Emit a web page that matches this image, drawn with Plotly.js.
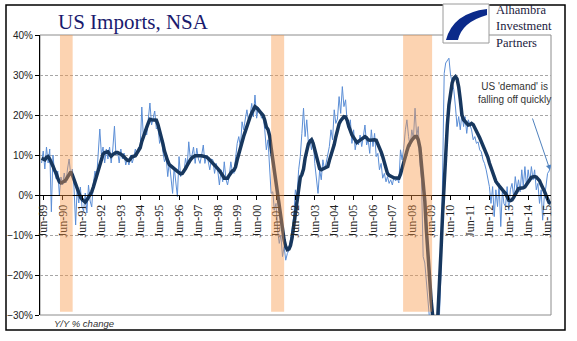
<!DOCTYPE html>
<html><head><meta charset="utf-8">
<script src="https://cdn.plot.ly/plotly-3.0.1.min.js"></script>
<style>html,body{margin:0;padding:0;background:#fff}#chart{width:577px;height:341px}</style>
</head><body><div id="chart"></div>
<script>
// Monthly Y/Y % change, May-1989 .. Aug-2015
const thinA = [8.0, 11.0, 6.5, 12.0, 8.0, 11.5, -4.2, 10.0, 5.5, 4.0, 6.0, 0.0,
  4.5, 2.5, 5.5, 3.0, 6.5, 9.0, 5.0, 6.5, 2.0, -7.5, 1.5, -2.0,
  2.0, -3.0, -4.0, 0.5, -4.5, 2.5, -1.5, -3.0, 3.0, 6.0, 4.0, 12.0,
  16.5, 10.0, 12.0, 8.0, 11.5, 9.0, 12.0, 8.0, 11.5, 17.2, 10.0, 11.0,
  8.0, 11.5, 9.0, 10.5, 7.5, 9.0, 7.5, 10.0, 8.0, 9.5, 11.5, 10.0];
const thinB = [12.0, 11.5, 22.0, 14.0, 16.5, 15.0, 19.5, 23.0, 17.5, 19.0, 21.0, 16.5,
  17.0, 12.9, 14.6, 11.0, 8.3, 9.6, 4.6, 8.3, 3.8, 0.4, 7.0, 3.0,
  -0.4, 9.6, 4.6, 6.0, 5.5, 9.2, 7.0, 13.3, 8.8, 10.0, 12.0, 7.9,
  11.7, 9.0, 7.9, 10.0, 12.5, 7.9, 10.0, 8.5, 6.3, 9.0, 8.8, 5.4,
  7.9, 6.0, 2.5, 6.3, 3.3, 8.3, 4.0, 2.5, 4.6, 8.3, 6.0, 5.4];
const thinC = [9.0, 12.9, 14.6, 12.0, 18.3, 16.3, 19.0, 21.3, 18.5, 20.0, 22.9, 19.5,
  25.0, 19.2, 22.0, 21.3, 19.2, 20.0, 16.3, 11.3, 13.8, 7.9, 0.4, 0.8,
  -3.8, -2.1, -8.8, -12.1, -10.0, -15.4, -12.9, -16.3, -14.6, -13.8, -11.5, -8.8,
  -5.4, 1.3, -0.4, 6.3, 9.6, 15.4, 21.7, 14.6, 18.8, 12.9, 14.0, 11.3,
  13.8, 7.9, 4.0, 0.4, 6.3, 3.8, 8.8, 6.3, 8.0, 10.4, 12.1, 16.3];
const thinD = [13.8, 21.3, 17.9, 19.0, 24.6, 20.4, 27.1, 22.1, 23.8, 17.9, 16.3, 18.8,
  12.9, 16.3, 11.3, 13.8, 12.5, 15.0, 12.1, 14.6, 17.5, 12.5, 13.8, 10.4,
  16.3, 12.1, 15.4, 9.6, 10.4, 6.3, 7.9, 4.2, 5.4, 3.3, 4.6, 2.9,
  3.8, 2.5, 4.6, 3.5, 4.2, 3.0, 11.3, 8.8, 11.7, 16.3, 18.8, 14.6,
  12.1, 16.3, 14.0, 21.7, 14.6, 17.1, 7.9, 3.8, -15.4, -17.0, -22.0, -27.0];
const thinE = [-31.0, -34.0, -36.0, -37.0, -35.5, -34.0, -31.0, -20.0, 4.0, 30.4, 33.0, 33.8,
  34.2, 30.0, 28.0, 26.3, 22.0, 17.1, 19.6, 16.3, 20.4, 17.1, 19.6, 15.4,
  18.8, 17.5, 16.3, 13.8, 14.6, 12.9, 13.3, 11.3, 10.8, 8.8, 7.9, 6.3,
  3.8, 2.1, -2.1, 2.1, -5.4, 1.3, -2.9, 2.9, -7.9, 1.3, -2.1, -2.9,
  2.1, -3.8, 1.3, 2.9, -0.4, 4.6, 1.3, 3.8, 0.8, 6.3, 2.1, 7.1];
const thinF = [2.1, 6.3, 3.3, 7.1, 3.8, 6.3, 1.3, 2.9, -2.1, 1.3, -6.3, -0.4, 2.0, 5.4, 6.0, 7.5];

const thickA = [9.2, 9.0, 8.8, 9.4, 9.6, 9.0, 8.3, 7.2, 6.2, 5.4, 4.2, 3.3,
  3.0, 3.1, 3.4, 3.8, 4.5, 5.3, 5.8, 5.0, 3.8, 2.5, 1.2, 0.1,
  -0.5, -1.1, -1.5, -1.8, -1.2, -0.6, 0.0, 0.8, 2.0, 3.4, 4.9, 6.5,
  8.2, 9.6, 10.2, 10.6, 10.8, 10.8, 10.2, 9.7, 10.1, 10.5, 10.6, 10.6,
  10.5, 10.2, 9.9, 9.5, 9.0, 8.7, 8.6, 9.2, 9.6, 9.7, 9.8, 10.5];
const thickB = [11.1, 11.8, 13.4, 14.8, 15.8, 16.9, 18.0, 18.9, 18.8, 18.7, 18.8, 18.7,
  17.6, 16.2, 14.5, 12.9, 11.0, 9.5, 8.5, 7.6, 7.2, 6.8, 6.5, 6.2,
  5.9, 5.6, 5.3, 5.4, 5.9, 6.6, 7.4, 8.2, 8.8, 9.3, 9.6, 9.8,
  9.8, 9.7, 9.8, 9.8, 9.7, 9.8, 9.5, 9.2, 8.8, 8.3, 7.9, 7.5,
  7.1, 6.6, 6.1, 5.6, 4.9, 4.2, 4.1, 4.2, 4.9, 5.7, 6.0, 6.2];
const thickC = [7.0, 8.8, 10.4, 12.0, 13.3, 14.7, 15.9, 17.3, 18.6, 19.6, 20.5, 21.4,
  22.1, 21.8, 21.4, 20.9, 20.4, 19.9, 18.7, 17.0, 16.4, 14.8, 11.8, 8.8,
  5.9, 3.0, 0.0, -2.9, -5.7, -8.5, -11.3, -12.9, -13.7, -13.5, -12.6, -10.6,
  -7.8, -4.6, -1.8, 1.6, 4.4, 5.1, 6.5, 9.2, 11.2, 12.8, 13.4, 13.8,
  12.9, 11.2, 9.4, 7.6, 6.6, 6.3, 6.5, 6.7, 6.7, 7.1, 8.6, 9.9];
const thickD = [11.4, 12.6, 14.5, 16.5, 17.8, 18.6, 19.2, 19.6, 19.5, 18.6, 17.2, 16.0,
  15.0, 14.4, 13.7, 13.1, 13.4, 13.7, 14.1, 14.4, 14.6, 14.3, 13.8, 13.7,
  13.8, 13.7, 13.8, 13.7, 12.8, 11.8, 10.8, 9.6, 7.9, 6.6, 5.4, 4.9,
  4.6, 4.5, 4.3, 4.2, 4.2, 4.2, 5.2, 6.8, 8.3, 9.6, 11.0, 12.3,
  13.2, 13.7, 14.2, 14.6, 14.6, 13.8, 11.8, 8.0, 4.0, -1.5, -8.5, -15.0];
const thickE = [-21.5, -26.5, -30.5, -33.0, -33.5, -31.0, -24.0, -14.5, -5.0, 4.0, 11.0, 17.5,
  22.5, 25.8, 28.0, 29.2, 29.6, 29.0, 27.0, 23.8, 20.0, 18.8, 18.3, 18.0,
  17.5, 17.6, 17.9, 17.6, 16.6, 15.9, 15.1, 14.3, 13.4, 12.6, 11.5, 10.5,
  9.5, 8.0, 6.8, 5.4, 4.2, 3.4, 2.8, 2.2, 1.7, 1.3, 0.8, 0.4,
  -0.4, -1.3, -1.4, -1.2, -0.6, 0.3, 1.0, 1.6, 1.7, 1.7, 1.8, 2.0];
const thickF = [2.5, 3.2, 3.8, 4.4, 4.6, 4.6, 4.5, 4.1, 3.6, 2.6, 2.0, 1.0, 0.0, -1.2, -1.9, -2.1];

const tickVals = ['1989-06-01','1990-06-01','1991-06-01','1992-06-01','1993-06-01','1994-06-01','1995-06-01',
  '1996-06-01','1997-06-01','1998-06-01','1999-06-01','2000-06-01','2001-06-01','2002-06-01','2003-06-01',
  '2004-06-01','2005-06-01','2006-06-01','2007-06-01','2008-06-01','2009-06-01','2010-06-01','2011-06-01',
  '2012-06-01','2013-06-01','2014-06-01','2015-06-01'];
const tickText = ['Jun-89','Jun-90','Jun-91','Jun-92','Jun-93','Jun-94','Jun-95','Jun-96','Jun-97','Jun-98',
  'Jun-99','Jun-00','Jun-01','Jun-02','Jun-03','Jun-04','Jun-05','Jun-06','Jun-07','Jun-08','Jun-09',
  'Jun-10','Jun-11','Jun-12','Jun-13','Jun-14','Jun-15'];
const recStart = ['1990-04-12','2001-03-01','2007-12-20'];
const recEnd   = ['1990-12-07','2001-11-01','2009-06-18'];

const thin = [].concat(thinA, thinB, thinC, thinD, thinE, thinF);
const thick = [].concat(thickA, thickB, thickC, thickD, thickE, thickF);
const dates = thin.map((_, i) => new Date(Date.UTC(1989, 4 + i, 1)).toISOString().slice(0, 10));

// pixel -> paper helpers (plot area: x 40..551, y 35..315)
const L = 40, T = 35, W = 511, H = 280;
const px = v => (v - L) / W;
const py = v => (T + H - v) / H;

const shapes = [];
recStart.forEach((s, i) => shapes.push({type:'rect', xref:'x', yref:'y', x0:s, x1:recEnd[i], y0:-29.2, y1:40,
  fillcolor:'#F79646', opacity:0.42, line:{width:0}, layer:'above'}));
// plot border (grey)
shapes.push({type:'rect', xref:'paper', yref:'paper', x0:0, x1:1, y0:0, y1:1, line:{color:'#8c8c8c', width:1}, layer:'below'});
// outer chart border
shapes.push({type:'rect', xref:'paper', yref:'paper', x0:px(6), x1:px(565), y0:py(330), y1:py(5), line:{color:'#000', width:1.5}});
// logo box
shapes.push({type:'rect', xref:'paper', yref:'paper', x0:px(443), x1:px(489), y0:py(43), y1:py(4), fillcolor:'#fff', line:{color:'#9a9a9a', width:1}, layer:'above'});
const P = (x, y) => px(x).toFixed(4) + ',' + py(y).toFixed(4);
shapes.push({type:'path', xref:'paper', yref:'paper', layer:'above', fillcolor:'#0b2a8a', line:{width:0},
  path:'M' + P(487,9) + ' Q' + P(453,13) + ' ' + P(446,40) + ' L' + P(458,40) + ' Q' + P(462,22) + ' ' + P(487,15) + ' Z'});

const annotations = [
  {xref:'paper', yref:'paper', x:px(494), y:py(26.5), xanchor:'left', yanchor:'middle', align:'left', showarrow:false,
    text:'Alhambra<br>Investment<br>Partners', font:{family:'Liberation Serif', size:12.5, color:'#1b1b40'}},
  {xref:'paper', yref:'paper', x:px(514), y:py(92.5), xanchor:'center', yanchor:'middle', showarrow:false,
    text:"US 'demand' is<br>falling off quickly", font:{family:'Liberation Sans', size:10, color:'#333'}},
  {xref:'paper', yref:'paper', x:px(550), y:py(170), ax:-18, ay:-53, showarrow:true, text:'', arrowhead:2, arrowsize:1, arrowwidth:1, arrowcolor:'#4F81BD'},
  {xref:'paper', yref:'paper', x:px(52), y:py(323), xanchor:'left', yanchor:'middle', showarrow:false,
    text:'<i>Y/Y % change</i>', font:{family:'Liberation Sans', size:9.5, color:'#333'}}
];

const data = [
  {x:dates, y:thin, type:'scatter', mode:'lines', line:{color:'#5b8ed6', width:1}, hoverinfo:'skip'},
  {x:dates, y:thick, type:'scatter', mode:'lines', line:{color:'#17375e', width:3.5}, hoverinfo:'skip'}
];

const layout = {
  width:577, height:341, margin:{l:L, r:577 - L - W, t:T, b:341 - T - H},
  paper_bgcolor:'#fff', plot_bgcolor:'#fff', showlegend:false,
  title:{text:'US Imports, NSA', xref:'container', yref:'container', x:58/577, xanchor:'left', y:1 - 22/341, yanchor:'middle',
    font:{family:'Liberation Serif', size:21, color:'#1a1a6e'}},
  xaxis:{type:'date', range:['1989-04-01','2015-08-05'], anchor:'free', position:30/70,
    tickmode:'array', tickvals:tickVals, ticktext:tickText, tickangle:-90,
    tickfont:{family:'Liberation Serif', size:12, color:'#222'},
    showline:true, linecolor:'#000', linewidth:1, ticks:'outside', ticklen:4, tickcolor:'#000',
    showgrid:false, zeroline:false, fixedrange:true},
  yaxis:{range:[-30, 40], dtick:10, tick0:0, ticksuffix:'%', domain:[0,1],
    tickfont:{family:'Liberation Sans', size:10, color:'#222'},
    showline:true, linecolor:'#000', linewidth:1, ticks:'outside', ticklen:4, tickcolor:'#000',
    showgrid:true, gridcolor:'#a6a6a6', gridwidth:1, griddash:'3px,2px', zeroline:false, fixedrange:true},
  shapes:shapes, annotations:annotations
};
Plotly.newPlot('chart', data, layout, {displayModeBar:false, staticPlot:true});
</script></body></html>
